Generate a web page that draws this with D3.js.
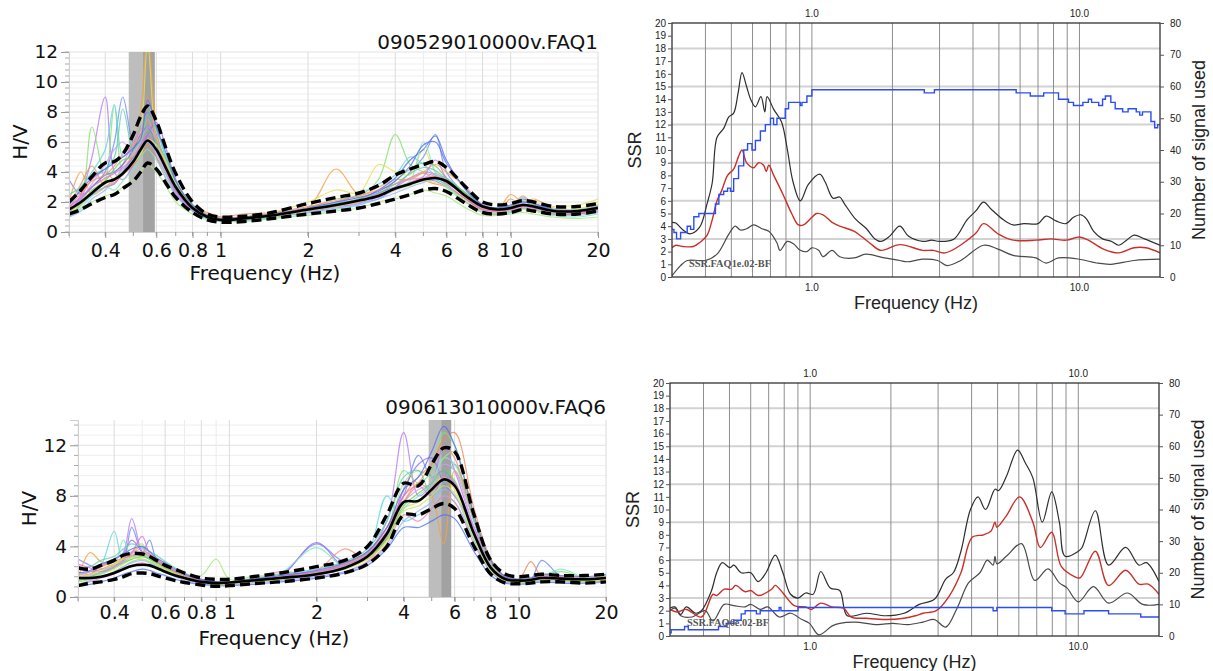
<!DOCTYPE html>
<html lang="en">
<head>
<meta charset="utf-8">
<title>hv_and_ssr_panels</title>
<script src="https://d3js.org/d3.v7.min.js"></script>
<style>
  body { margin: 0; background: #fff; }
  svg { display: block; }
  .hv text { font-family: "DejaVu Sans", sans-serif; fill: #111; }
  .ssr text { font-family: "Liberation Sans", Arial, sans-serif; fill: #222; }
</style>
</head>
<body>
<svg id="chart"></svg>
<script>
//============================================================
//                          data
//============================================================

// H/V frequency grid (Hz), shared by every H/V curve
var hvFreq = [0.3, 0.33, 0.36, 0.4, 0.43, 0.46, 0.5, 0.53, 0.56, 0.6, 0.65, 0.7, 0.8, 0.9, 1,
              1.2, 1.5, 2, 2.5, 3, 3.5, 4, 4.5, 5, 5.5, 6, 7, 8, 9, 10, 11, 12, 14, 17, 20]
var hvTicksX = [0.4, 0.6, 0.8, 1, 2, 4, 6, 8, 10, 20]
var hvGridX = [0.3, 0.4, 0.5, 0.6, 0.7, 0.8, 0.9, 1, 2, 3, 4, 5, 6, 7, 8, 9, 10, 20]

// top-left: 090529010000v.FAQ1
var hvA_title = "090529010000v.FAQ1"
var hvA_mean = [1.5, 2.0, 2.6, 3.3, 3.5, 3.9, 4.7, 5.5, 6.1, 5.5, 4.2, 3.0, 1.6, 1.0, 0.8, 0.9, 1.1, 1.5, 1.8, 2.1, 2.4, 2.9, 3.2, 3.5, 3.6, 3.4, 2.4, 1.7, 1.5, 1.6, 1.8, 1.7, 1.4, 1.4, 1.6]
var hvA_hi = [2.0, 2.8, 3.7, 4.6, 4.7, 5.2, 6.5, 7.7, 8.4, 7.4, 5.5, 3.9, 2.0, 1.2, 1.0, 1.05, 1.3, 1.9, 2.3, 2.6, 3.1, 3.8, 4.2, 4.5, 4.7, 4.3, 3.0, 2.0, 1.8, 1.9, 2.1, 2.0, 1.7, 1.7, 1.9]
var hvA_lo = [1.2, 1.5, 1.9, 2.3, 2.5, 2.9, 3.4, 4.0, 4.6, 4.2, 3.2, 2.3, 1.3, 0.8, 0.65, 0.7, 0.9, 1.2, 1.4, 1.6, 1.9, 2.2, 2.5, 2.8, 2.9, 2.7, 1.9, 1.3, 1.2, 1.3, 1.5, 1.4, 1.2, 1.2, 1.4]
var hvA_band = [0.482, 0.540, 0.593]
var hvA_windows = [
  [1.2, 2.5, 5.0, 9.0, 4.0, 3.5, 4.5, 5.5, 6.5, 5.0, 3.5, 2.5, 1.4, 0.9, 0.8, 0.9, 1.0, 1.4, 1.7, 2.0, 2.6, 3.0, 3.6, 4.0, 3.8, 3.2, 2.2, 1.5, 1.4, 1.5, 1.9, 1.6, 1.3, 1.2, 1.4],
  [1.0, 2.0, 7.0, 3.5, 8.4, 4.0, 5.0, 6.0, 7.5, 6.0, 4.5, 3.2, 1.7, 1.0, 0.8, 0.8, 1.2, 1.6, 2.2, 2.4, 3.5, 6.5, 4.5, 4.0, 3.5, 3.2, 2.5, 1.6, 1.5, 1.6, 1.8, 1.8, 1.5, 1.4, 1.7],
  [3.5, 2.5, 3.0, 4.0, 6.0, 9.0, 6.0, 7.0, 8.0, 6.5, 4.5, 3.0, 1.5, 1.0, 0.9, 1.0, 1.2, 1.5, 1.8, 2.0, 2.2, 3.0, 4.0, 5.0, 6.5, 4.0, 2.5, 1.7, 1.6, 1.7, 2.0, 1.9, 1.5, 1.3, 1.5],
  [2.0, 4.0, 2.5, 3.0, 3.5, 4.0, 5.5, 8.0, 13.0, 7.0, 4.0, 2.8, 1.7, 1.2, 0.9, 0.9, 1.2, 1.6, 4.2, 2.5, 3.0, 3.5, 3.5, 4.0, 4.5, 4.0, 3.0, 1.8, 1.5, 2.5, 2.0, 2.2, 1.6, 1.5, 1.8],
  [1.5, 3.0, 4.0, 5.5, 8.5, 5.0, 6.0, 7.0, 8.5, 7.0, 5.0, 3.2, 1.6, 1.0, 0.8, 0.8, 1.1, 1.5, 2.0, 2.5, 3.2, 3.8, 5.0, 4.5, 3.8, 3.6, 2.5, 1.7, 1.5, 1.6, 2.3, 1.9, 1.5, 1.5, 1.7],
  [1.3, 2.0, 3.0, 3.5, 4.0, 4.5, 5.0, 6.5, 12.5, 6.0, 4.0, 2.8, 1.5, 1.0, 0.9, 1.0, 1.3, 2.0, 2.8, 2.6, 4.5, 4.0, 3.8, 5.5, 4.0, 3.5, 2.5, 1.8, 1.6, 1.8, 2.2, 2.0, 1.7, 1.8, 2.2],
  [1.6, 2.4, 3.5, 4.0, 3.5, 4.5, 6.0, 6.8, 7.5, 6.0, 4.5, 3.0, 1.5, 1.0, 0.8, 0.9, 1.1, 1.4, 1.8, 2.0, 2.8, 3.2, 3.5, 3.6, 3.7, 3.3, 2.4, 1.5, 1.4, 1.5, 1.7, 1.6, 1.4, 1.3, 1.5],
  [1.0, 1.8, 2.5, 3.0, 3.2, 4.0, 5.0, 5.5, 6.5, 7.3, 5.5, 3.5, 1.6, 0.9, 0.7, 0.8, 1.0, 1.3, 1.7, 1.9, 2.6, 3.0, 3.2, 3.5, 3.4, 3.0, 2.2, 1.4, 1.3, 1.4, 1.6, 1.5, 1.2, 1.2, 1.4],
  [1.2, 1.5, 2.0, 2.4, 2.6, 3.0, 3.5, 4.0, 4.5, 4.0, 3.0, 2.0, 1.2, 0.8, 0.7, 0.75, 0.9, 1.1, 1.4, 1.6, 2.0, 2.2, 2.5, 2.8, 2.6, 2.4, 1.6, 1.1, 1.1, 1.2, 1.3, 1.2, 1.0, 0.9, 1.0],
  [1.4, 2.2, 3.0, 3.8, 4.0, 4.5, 5.5, 6.5, 7.0, 5.8, 4.2, 2.8, 1.5, 0.9, 0.8, 0.9, 1.1, 1.5, 1.9, 2.2, 2.8, 3.6, 4.8, 5.5, 6.4, 4.8, 2.8, 1.8, 1.6, 1.7, 2.0, 1.8, 1.4, 1.3, 1.6],
  [1.8, 3.2, 4.4, 3.0, 3.3, 3.8, 4.5, 5.0, 5.8, 5.0, 3.8, 2.6, 1.6, 1.3, 1.0, 1.0, 1.2, 1.6, 2.0, 2.3, 2.5, 2.9, 3.2, 3.4, 3.2, 3.0, 2.2, 1.4, 1.2, 2.2, 1.6, 1.5, 1.2, 1.2, 1.5],
  [1.1, 1.6, 2.4, 3.0, 2.8, 3.4, 4.2, 5.0, 5.5, 4.8, 3.6, 2.4, 1.4, 0.9, 0.7, 0.7, 0.9, 1.2, 1.5, 1.8, 2.4, 3.0, 3.4, 6.0, 4.0, 3.0, 2.0, 1.4, 1.2, 1.3, 1.5, 1.4, 1.1, 1.0, 1.2],
  [1.3, 2.2, 3.2, 4.5, 5.5, 6.0, 5.2, 6.0, 7.0, 6.2, 4.6, 3.0, 1.5, 1.0, 0.8, 0.85, 1.0, 1.3, 1.6, 1.9, 2.3, 2.8, 3.3, 3.6, 3.9, 3.4, 2.3, 1.6, 1.5, 1.6, 1.9, 1.7, 1.4, 1.3, 1.5],
  [2.5, 3.0, 3.8, 4.2, 5.0, 8.2, 5.5, 6.2, 7.8, 6.8, 4.8, 3.2, 1.6, 1.0, 0.8, 0.9, 1.1, 1.5, 1.9, 2.2, 2.6, 3.2, 3.9, 4.3, 4.1, 3.5, 2.6, 1.7, 1.6, 1.7, 2.1, 1.8, 1.5, 1.4, 1.7],
  [1.0, 1.4, 2.2, 2.8, 3.5, 4.2, 4.8, 5.6, 6.0, 5.2, 3.8, 2.6, 1.4, 0.9, 0.75, 0.8, 1.0, 1.3, 1.6, 1.8, 2.2, 2.6, 3.0, 3.3, 3.5, 3.1, 2.0, 1.3, 1.2, 1.3, 1.6, 1.5, 1.2, 1.1, 1.3],
  [1.6, 2.6, 3.4, 3.8, 4.4, 5.2, 5.8, 6.4, 9.0, 6.2, 4.4, 3.0, 1.8, 1.1, 1.0, 1.2, 1.3, 1.7, 2.1, 2.4, 2.8, 3.2, 3.6, 3.9, 3.7, 3.3, 2.5, 1.6, 1.4, 1.6, 2.4, 1.8, 1.4, 1.3, 1.6],
  [1.4, 1.9, 2.8, 3.4, 4.2, 4.8, 5.0, 5.8, 6.8, 6.0, 4.8, 3.4, 1.8, 1.1, 0.9, 0.9, 1.1, 1.5, 1.8, 2.1, 2.5, 3.4, 4.2, 4.6, 4.4, 3.6, 2.6, 1.7, 1.5, 1.6, 1.8, 1.7, 1.4, 1.3, 1.5],
  [1.7, 2.3, 3.0, 3.6, 3.9, 4.3, 5.0, 5.8, 6.5, 5.4, 4.0, 2.7, 1.5, 1.0, 0.85, 0.9, 1.1, 1.5, 1.8, 2.1, 2.5, 2.9, 3.3, 3.7, 4.8, 3.6, 2.3, 1.5, 1.4, 1.5, 1.7, 1.6, 1.3, 1.3, 1.5],
  [1.2, 1.8, 2.6, 3.2, 3.6, 4.0, 4.6, 5.2, 6.2, 5.8, 4.6, 3.2, 1.7, 1.0, 0.8, 0.85, 1.0, 1.4, 1.7, 2.0, 2.4, 2.8, 3.1, 3.4, 3.3, 3.0, 2.1, 1.4, 1.3, 1.4, 1.6, 1.5, 1.3, 1.5, 2.0],
  [1.8, 2.8, 3.6, 4.2, 4.6, 5.0, 5.6, 6.2, 8.8, 7.0, 5.2, 3.4, 1.8, 1.1, 0.9, 1.0, 1.2, 1.6, 2.0, 2.3, 2.7, 3.4, 4.4, 5.8, 6.0, 4.6, 2.9, 1.8, 1.6, 1.8, 2.2, 1.9, 1.5, 1.4, 1.7]
]

// bottom-left: 090613010000v.FAQ6
var hvC_title = "090613010000v.FAQ6"
var hvC_mean = [1.5, 1.5, 1.6, 1.9, 2.2, 2.45, 2.55, 2.5, 2.3, 2.0, 1.7, 1.5, 1.2, 1.1, 1.15, 1.3, 1.5, 1.8, 2.3, 3.2, 5.0, 7.5, 7.6, 8.5, 9.3, 8.8, 5.0, 2.3, 1.4, 1.3, 1.35, 1.5, 1.45, 1.4, 1.5]
var hvC_hi = [2.3, 2.2, 2.5, 2.9, 3.3, 3.45, 3.4, 3.2, 2.9, 2.5, 2.2, 1.9, 1.5, 1.4, 1.4, 1.6, 1.9, 2.4, 2.9, 4.0, 6.5, 9.0, 8.8, 10.5, 11.8, 11.5, 6.5, 2.9, 1.8, 1.6, 1.7, 1.8, 1.7, 1.7, 1.8]
var hvC_lo = [0.9, 1.1, 1.2, 1.4, 1.6, 1.85, 1.9, 1.85, 1.7, 1.5, 1.3, 1.15, 0.95, 0.85, 0.9, 1.05, 1.2, 1.5, 1.9, 2.6, 4.0, 6.5, 6.5, 7.0, 7.4, 7.0, 4.0, 1.8, 1.1, 1.05, 1.1, 1.2, 1.2, 1.1, 1.2]
var hvC_band = [4.88, 5.39, 5.84]
var hvC_windows = [
  [2.0, 1.8, 2.5, 3.0, 3.5, 6.2, 3.5, 3.0, 2.6, 2.2, 1.7, 1.5, 1.2, 1.0, 1.0, 1.2, 1.4, 1.7, 2.4, 3.5, 6.0, 13.0, 8.0, 9.0, 12.0, 10.0, 5.5, 2.5, 1.5, 1.2, 1.3, 1.6, 1.5, 1.3, 1.4],
  [1.2, 1.4, 1.6, 2.0, 2.4, 2.8, 3.0, 2.8, 2.5, 2.1, 1.8, 1.5, 1.1, 1.0, 1.1, 1.3, 1.5, 1.8, 2.5, 3.0, 5.0, 10.0, 9.0, 10.0, 13.0, 12.0, 6.5, 2.8, 1.6, 1.4, 1.5, 1.7, 2.0, 1.5, 1.6],
  [3.0, 2.5, 2.2, 2.5, 2.8, 5.5, 3.5, 4.5, 3.0, 2.6, 2.0, 1.7, 1.3, 1.1, 1.2, 1.4, 1.7, 4.2, 2.8, 3.5, 5.5, 8.0, 11.2, 9.5, 10.0, 9.0, 5.0, 2.4, 1.5, 1.3, 1.4, 2.9, 1.6, 1.4, 1.5],
  [1.5, 3.5, 2.8, 2.5, 3.0, 3.5, 4.0, 3.2, 2.8, 2.4, 1.9, 1.6, 1.2, 1.0, 1.0, 1.2, 1.5, 1.9, 2.6, 3.4, 5.2, 7.5, 9.0, 8.0, 4.2, 10.0, 6.0, 2.5, 1.4, 1.2, 1.3, 1.5, 1.4, 1.3, 1.4],
  [1.8, 2.0, 2.5, 5.2, 2.8, 3.2, 3.5, 3.0, 2.7, 2.3, 1.9, 1.6, 1.3, 1.2, 1.1, 1.3, 1.6, 2.0, 2.5, 3.5, 8.0, 6.0, 6.5, 7.0, 8.0, 7.5, 4.5, 2.2, 1.3, 1.1, 1.2, 1.4, 1.3, 1.2, 1.3],
  [1.2, 1.5, 1.8, 2.2, 2.6, 3.0, 3.2, 3.4, 3.0, 2.4, 1.9, 1.6, 1.2, 1.0, 1.0, 1.2, 1.4, 1.8, 2.2, 3.0, 4.5, 7.0, 7.5, 8.5, 9.5, 8.5, 4.8, 2.2, 1.3, 1.2, 1.3, 1.5, 1.4, 1.3, 1.4],
  [1.0, 1.2, 1.5, 1.8, 2.2, 2.5, 2.7, 2.5, 2.3, 2.0, 1.7, 1.4, 1.1, 1.0, 1.0, 1.2, 2.0, 1.7, 2.0, 2.8, 4.2, 6.5, 6.0, 7.0, 8.0, 7.5, 4.2, 2.0, 1.2, 1.1, 1.2, 1.4, 1.3, 1.2, 1.3],
  [2.5, 2.0, 2.4, 3.0, 3.4, 4.5, 3.6, 3.2, 2.8, 2.4, 2.0, 1.6, 1.2, 1.1, 1.1, 1.3, 1.6, 4.3, 2.4, 3.2, 4.8, 8.5, 10.5, 11.0, 9.0, 8.0, 5.5, 2.6, 1.5, 1.3, 1.4, 1.6, 1.5, 1.4, 1.5],
  [1.4, 1.6, 2.0, 2.5, 3.2, 3.6, 4.2, 3.0, 2.6, 2.2, 2.0, 1.8, 1.7, 3.0, 1.4, 1.6, 1.8, 2.0, 2.6, 3.4, 5.0, 9.0, 10.0, 9.5, 11.0, 11.5, 6.0, 2.6, 1.5, 1.3, 1.4, 1.5, 1.5, 1.4, 1.6],
  [0.9, 1.0, 1.2, 1.5, 1.8, 2.0, 2.2, 2.1, 1.9, 1.7, 1.4, 1.2, 1.0, 0.9, 0.9, 1.0, 1.2, 1.5, 1.9, 2.5, 3.8, 5.5, 5.5, 6.0, 6.5, 6.2, 3.6, 1.7, 1.1, 1.0, 1.1, 1.2, 1.1, 1.1, 1.2],
  [1.6, 1.8, 2.2, 2.6, 3.0, 3.2, 3.3, 3.0, 2.7, 2.3, 1.9, 1.6, 1.3, 1.1, 1.1, 1.3, 1.6, 2.0, 2.6, 3.6, 5.5, 8.0, 9.5, 10.5, 12.5, 13.0, 7.0, 3.0, 1.6, 1.4, 2.8, 1.6, 1.5, 1.4, 1.6],
  [1.3, 1.5, 1.8, 2.4, 4.5, 3.2, 3.4, 3.0, 2.6, 2.2, 1.8, 1.5, 1.2, 1.1, 1.2, 1.5, 1.9, 3.9, 2.4, 3.2, 4.6, 7.0, 8.0, 9.0, 11.0, 10.5, 6.0, 2.8, 1.5, 1.3, 1.4, 1.6, 2.2, 1.5, 1.5],
  [1.4, 1.7, 2.0, 2.4, 2.8, 3.4, 3.8, 3.2, 2.8, 2.4, 2.0, 1.7, 1.3, 1.1, 1.1, 1.3, 1.6, 2.0, 2.4, 3.3, 5.0, 7.5, 8.5, 9.0, 10.5, 10.0, 5.5, 2.4, 1.4, 1.2, 1.3, 1.5, 1.4, 1.3, 1.5],
  [2.2, 2.4, 2.9, 3.2, 3.8, 4.2, 3.9, 3.6, 3.3, 2.8, 2.3, 1.9, 1.4, 1.2, 1.2, 1.4, 1.8, 2.2, 2.8, 3.8, 6.0, 9.5, 10.0, 8.0, 9.0, 10.5, 6.0, 2.8, 1.6, 1.4, 1.5, 1.7, 1.6, 1.5, 1.7],
  [1.0, 1.3, 1.6, 2.0, 2.4, 2.7, 2.9, 2.7, 2.4, 2.0, 1.6, 1.3, 1.0, 0.9, 0.9, 1.1, 1.3, 1.6, 2.0, 2.7, 4.0, 6.0, 6.8, 7.5, 8.5, 8.0, 4.5, 2.0, 1.2, 1.0, 1.1, 1.3, 1.2, 1.1, 1.2],
  [1.7, 2.0, 2.4, 2.8, 3.1, 3.3, 3.6, 3.4, 3.0, 2.6, 2.1, 1.8, 1.4, 1.2, 1.2, 1.4, 1.7, 2.1, 3.8, 3.0, 4.8, 7.5, 9.0, 10.5, 12.0, 11.0, 6.2, 2.8, 1.6, 1.4, 1.5, 1.7, 1.6, 1.5, 1.6],
  [1.3, 1.6, 1.9, 2.3, 2.7, 3.0, 3.2, 3.0, 2.8, 2.4, 2.0, 1.7, 1.3, 1.1, 1.1, 1.3, 1.5, 1.9, 2.3, 3.1, 4.6, 7.2, 8.2, 9.0, 10.0, 9.2, 5.0, 2.3, 1.4, 1.2, 1.3, 1.5, 1.4, 1.3, 1.5],
  [2.6, 2.3, 2.0, 2.4, 2.9, 3.5, 4.8, 3.4, 2.9, 2.5, 2.0, 1.7, 1.3, 1.1, 1.1, 1.3, 1.6, 2.0, 2.5, 3.4, 5.2, 8.0, 8.8, 8.0, 9.5, 9.0, 5.2, 2.4, 1.5, 1.3, 1.4, 1.6, 1.5, 1.4, 1.5],
  [1.5, 1.8, 2.1, 2.6, 3.0, 3.1, 3.0, 2.8, 2.6, 2.2, 1.9, 1.6, 1.2, 1.0, 1.0, 1.2, 1.4, 1.8, 2.2, 3.0, 4.4, 6.8, 7.2, 8.0, 8.8, 8.2, 4.6, 2.1, 1.3, 1.1, 1.2, 1.4, 1.3, 1.2, 1.4],
  [1.9, 2.1, 2.6, 3.0, 3.4, 3.8, 4.0, 3.6, 3.1, 2.7, 2.2, 1.8, 1.4, 1.2, 1.2, 1.4, 1.7, 2.1, 2.7, 3.6, 5.5, 8.5, 9.5, 11.5, 13.5, 12.0, 6.5, 2.9, 1.6, 1.4, 1.5, 1.8, 1.7, 1.6, 1.8]
]
var winColors = ["#b87cf0", "#86e070", "#6f8cf5", "#f2a24a", "#5fd6e4", "#e4e05a",
                 "#f284bf", "#9c6cf0", "#a8e87a", "#4f74f0", "#f08a5a", "#7ee8c0",
                 "#c9a0f5", "#60d0b0", "#90b8ff", "#f0907a", "#70d060", "#e070e0",
                 "#c8e860", "#5a6ff0"]

// SSR panels: [frequency Hz, value]; count curves use the right axis
var ssrTicksX = [1, 10]
var ssrGridX = [0.4, 0.5, 0.6, 0.7, 0.8, 0.9, 1, 2, 3, 4, 5, 6, 7, 8, 9, 10]
var ssrGridY = [3, 6, 9, 12, 15, 18]

var ssrB_tag = "SSR.FAQ1e.02-BF"
var ssrB_up = [[0.3,4.3],[0.31,4.25],[0.33,3.7],[0.35,3.4],[0.38,3.9],[0.406,5.8],[0.424,7.4],[0.442,11.0],
  [0.468,11.7],[0.489,12.6],[0.51,12.9],[0.53,14.5],[0.548,16.1],[0.57,15.0],[0.59,14.0],[0.615,13.4],[0.645,14.2],
  [0.667,13.0],[0.68,14.2],[0.72,13.2],[0.77,12.2],[0.81,10.0],[0.85,7.5],[0.905,6.0],[0.97,7.3],[1.07,8.1],
  [1.12,7.5],[1.2,6.2],[1.27,6.3],[1.32,5.8],[1.45,4.6],[1.6,3.8],[1.72,3.0],[1.81,2.8],[1.95,3.2],[2.13,4.0],
  [2.3,3.2],[2.6,2.8],[2.8,2.9],[3.0,2.8],[3.4,3.0],[3.8,4.5],[4.1,5.2],[4.38,5.9],[4.7,5.3],[5.2,4.5],[5.65,4.1],
  [6.2,4.2],[7.0,4.2],[7.5,4.8],[8.2,4.4],[8.9,4.2],[9.5,4.7],[10.1,4.9],[10.6,4.6],[11.3,3.6],[12.2,3.0],
  [13.2,2.8],[14,2.5],[15,2.9],[16,3.3],[17.5,3.0],[20,2.5]]
var ssrB_mean = [[0.3,2.3],[0.31,2.5],[0.33,2.4],[0.36,2.4],[0.38,2.7],[0.406,3.3],[0.424,4.5],[0.442,6.0],
  [0.46,6.8],[0.484,8.0],[0.51,8.5],[0.532,9.5],[0.548,10.0],[0.57,9.0],[0.606,8.6],[0.632,9.0],[0.66,8.8],
  [0.675,8.3],[0.69,8.8],[0.72,8.0],[0.78,6.5],[0.84,5.0],[0.89,4.1],[0.93,4.1],[1.0,4.7],[1.04,5.0],[1.1,4.9],
  [1.19,4.3],[1.27,4.0],[1.44,3.6],[1.64,2.7],[1.81,2.1],[2.13,2.55],[2.59,2.1],[2.85,2.1],[3.15,1.9],[4.08,3.4],
  [4.38,4.2],[4.96,3.4],[5.65,2.9],[6.87,2.9],[7.83,3.0],[8.93,2.9],[10,3.15],[10.8,2.9],[12.3,2.2],[14,1.9],
  [16,2.3],[17.7,2.3],[20,1.9]]
var ssrB_low = [[0.3,0.1],[0.323,0.9],[0.342,1.3],[0.378,1.3],[0.4,1.3],[0.442,1.8],[0.49,3.4],[0.517,4.0],
  [0.54,3.7],[0.57,3.8],[0.606,4.1],[0.65,3.8],[0.69,3.6],[0.74,2.7],[0.76,2.1],[0.81,2.8],[0.855,2.6],[0.905,2.1],
  [0.958,2.0],[1.0,2.3],[1.06,2.1],[1.1,1.6],[1.19,2.1],[1.27,1.6],[1.44,1.5],[1.59,1.8],[1.87,1.5],[2.13,1.3],
  [2.27,1.2],[2.59,1.4],[2.95,1.3],[3.2,0.9],[3.6,1.3],[4.38,2.5],[4.96,2.2],[5.65,1.7],[6.87,1.5],[7.5,1.1],
  [8.35,1.5],[10,1.4],[11.6,1.1],[13.1,1.0],[16,1.3],[20,1.4]]
var ssrB_count = [[0.3,15],[0.305,14],[0.312,12],[0.323,14],[0.342,16],[0.352,15],[0.362,19],[0.378,20],
  [0.436,23],[0.449,26],[0.468,27],[0.484,28],[0.496,27],[0.51,31],[0.532,35],[0.556,40],[0.575,42],[0.597,40],
  [0.615,43],[0.642,46],[0.67,48],[0.7,50],[0.719,48],[0.74,50],[0.795,53],[0.818,55],[0.905,54],[0.918,55],
  [0.958,57],[1.0,59],[2.63,58],[2.87,59],[5.8,58],[6.55,57],[7.35,58],[8.35,56],[9.1,55],[9.5,54],[10.3,55],
  [10.8,56],[11.1,55],[11.8,54],[12.2,56],[12.5,57],[13.1,55],[13.6,53],[14.5,52],[15.2,53],[16.3,52],[16.8,51],
  [17.2,52],[18.5,49],[19.1,47],[19.6,48],[20,48]]

var ssrD_tag = "SSR.FAQ6e.02-BF"
var ssrD_up = [[0.3,2.2],[0.313,2.3],[0.329,1.7],[0.345,2.3],[0.374,1.8],[0.393,2.0],[0.427,3.5],[0.448,5.0],
  [0.47,5.8],[0.502,5.4],[0.519,5.6],[0.553,5.0],[0.6,5.0],[0.64,4.3],[0.684,5.0],[0.741,6.4],[0.791,5.0],
  [0.845,3.3],[0.901,3.0],[0.962,3.4],[1.026,3.3],[1.095,5.1],[1.188,3.8],[1.289,3.6],[1.375,1.6],[1.618,1.8],
  [1.905,1.6],[2.24,1.8],[2.552,2.5],[2.906,2.9],[3.204,4.5],[3.42,5.0],[3.65,6.7],[3.96,10.0],[4.225,11.0],
  [4.51,10.0],[4.89,11.6],[5.05,11.5],[5.39,12.6],[5.94,14.7],[6.34,13.7],[6.77,12.5],[7.34,9.0],[7.96,11.4],
  [8.5,9.0],[8.93,6.3],[10,6.7],[10.33,7.0],[11.58,9.9],[12.97,5.6],[15.02,7.0],[16.83,5.6],[17.95,5.8],[20,4.3]]
var ssrD_mean = [[0.3,2.1],[0.318,1.9],[0.345,2.1],[0.393,1.5],[0.434,3.3],[0.448,3.2],[0.478,3.7],[0.51,3.7],
  [0.527,4.0],[0.572,3.5],[0.6,3.6],[0.64,3.2],[0.718,3.7],[0.741,4.0],[0.791,3.4],[0.872,2.4],[0.962,2.3],
  [1.01,2.1],[1.095,2.6],[1.208,2.3],[1.331,2.2],[1.421,1.5],[1.618,1.4],[1.905,1.3],[2.24,1.4],[2.47,1.6],
  [2.636,1.8],[2.953,2.0],[3.31,3.2],[3.65,5.0],[4.02,7.8],[4.436,8.0],[4.73,8.3],[4.89,9.0],[4.97,8.6],
  [5.39,9.5],[6.04,11.0],[6.77,9.0],[7.22,7.0],[7.96,8.2],[8.64,5.5],[9.68,4.7],[10.16,4.6],[11.58,6.7],
  [12.97,4.0],[15.02,5.2],[16.83,4.1],[18.25,4.1],[20,3.3]]
var ssrD_low = [[0.3,2.0],[0.313,2.2],[0.329,1.6],[0.362,1.5],[0.406,2.0],[0.434,1.2],[0.478,2.5],[0.519,2.4],
  [0.572,2.3],[0.6,2.5],[0.651,2.1],[0.695,2.3],[0.766,1.5],[0.845,1.8],[0.931,1.3],[0.994,1.0],[1.078,0.1],
  [1.208,0.8],[1.289,1.0],[1.468,1.1],[1.784,0.9],[2.032,1.0],[2.314,0.9],[2.636,1.1],[2.906,1.3],[3.204,0.7],
  [3.53,2.2],[3.894,4.2],[4.295,5.0],[4.58,6.0],[4.81,5.6],[4.89,6.3],[4.97,5.7],[5.39,6.3],[6.14,7.3],[6.88,4.4],
  [7.71,5.3],[8.5,4.2],[9.07,3.8],[10,2.7],[11.39,3.9],[12.97,2.6],[15.26,3.4],[17.38,2.5],[20,2.5]]
var ssrD_count = [[0.3,1],[0.303,2],[0.34,3],[0.351,2],[0.455,3],[0.486,4],[0.519,5],[0.553,7],[0.572,8],
  [0.63,7],[0.651,8],[0.766,9],[0.778,8],[0.901,9],[4.81,8],[4.97,9],[7.96,8],[8.93,7],[10.5,8],[12.97,7],
  [17.1,6],[20,6]]

//============================================================
//                          init
//============================================================
var wholeW = 1213
var wholeH = 671

var svg = d3.select("#chart")
  .attr("width", wholeW)
  .attr("height", wholeH)

//============================================================
//                 H/V panel (left column)
//============================================================
function drawHV(cfg) {
  var g = svg.append("g").attr("class", "hv")
  var x = d3.scaleLog().domain([0.3, 20]).range([cfg.x0, cfg.x1])
  var y = d3.scaleLinear().domain([0, cfg.ymax]).range([cfg.y0, cfg.yTop])

  svg.append("clipPath").attr("id", "clip" + cfg.id)
    .append("rect")
    .attr("x", cfg.x0).attr("y", cfg.yTop)
    .attr("width", cfg.x1 - cfg.x0).attr("height", cfg.y0 - cfg.yTop)

  // grid
  var minorY = d3.range(0, cfg.ymax + 1e-6, cfg.minorStep)
  g.append("g").selectAll("line").data(minorY).join("line")
    .attr("x1", cfg.x0).attr("x2", cfg.x1)
    .attr("y1", d => y(d)).attr("y2", d => y(d))
    .attr("stroke", d => (Math.abs(d / cfg.majorStep - Math.round(d / cfg.majorStep)) < 1e-6) ? "#e2e2e2" : "#efefef")
    .attr("stroke-width", 1)
  g.append("g").selectAll("line").data(hvGridX).join("line")
    .attr("x1", d => x(d)).attr("x2", d => x(d))
    .attr("y1", cfg.yTop).attr("y2", cfg.y0)
    .attr("stroke", d => hvTicksX.includes(d) ? "#dcdcdc" : "#ececec")
    .attr("stroke-width", 1)

  // peak frequency band
  g.append("rect")
    .attr("x", x(cfg.band[0])).attr("width", x(cfg.band[1]) - x(cfg.band[0]))
    .attr("y", cfg.yTop).attr("height", cfg.y0 - cfg.yTop)
    .attr("fill", "#bdbdbd")
  g.append("rect")
    .attr("x", x(cfg.band[1])).attr("width", x(cfg.band[2]) - x(cfg.band[1]))
    .attr("y", cfg.yTop).attr("height", cfg.y0 - cfg.yTop)
    .attr("fill", "#a2a2a2")

  var line = d3.line()
    .defined(d => d != null)
    .curve(d3.curveCatmullRom.alpha(0.5))
    .x((d, i) => x(hvFreq[i]))
    .y(d => y(d))

  var curves = g.append("g").attr("clip-path", "url(#clip" + cfg.id + ")")

  curves.selectAll("path.win").data(cfg.wins).join("path")
    .attr("class", "win")
    .attr("d", d => line(d))
    .attr("fill", "none")
    .attr("stroke", (d, i) => winColors[i % winColors.length])
    .attr("stroke-width", 1.2)
    .attr("opacity", 0.8)

  ;[cfg.hi, cfg.lo].forEach(s => {
    curves.append("path")
      .attr("d", line(s))
      .attr("fill", "none")
      .attr("stroke", "#000")
      .attr("stroke-width", 3.4)
      .attr("stroke-dasharray", "10,5")
  })
  curves.append("path")
    .attr("d", line(cfg.mean))
    .attr("fill", "none")
    .attr("stroke", "#000")
    .attr("stroke-width", 2.6)

  // y axis
  var yAxis = d3.axisLeft(y)
    .tickValues(d3.range(0, cfg.ymax + 1e-6, cfg.majorStep))
    .tickSize(8).tickPadding(3)
  var ya = g.append("g").attr("transform", "translate(" + cfg.x0 + ",0)").call(yAxis)
  ya.select(".domain").attr("stroke", "#cfcfcf")
  ya.selectAll(".tick line").attr("stroke", "#999")
  ya.selectAll("text").style("font-size", "18.5px")
  g.append("g").selectAll("line").data(minorY).join("line")
    .attr("x1", cfg.x0 - 4).attr("x2", cfg.x0)
    .attr("y1", d => y(d)).attr("y2", d => y(d))
    .attr("stroke", "#aaa").attr("stroke-width", 1)

  // x axis
  var xAxis = d3.axisBottom(x)
    .tickValues(hvTicksX)
    .tickFormat(d => String(d))
    .tickSize(cfg.tickLen).tickPadding(cfg.tickPad)
  var xa = g.append("g").attr("transform", "translate(0," + cfg.y0 + ")").call(xAxis)
  xa.select(".domain").attr("stroke", "#cfcfcf")
  xa.selectAll(".tick line").attr("stroke", "#999")
  xa.selectAll("text").style("font-size", "19px")
  g.append("g").selectAll("line").data(hvGridX).join("line")
    .attr("x1", d => x(d)).attr("x2", d => x(d))
    .attr("y1", cfg.y0).attr("y2", cfg.y0 + 4)
    .attr("stroke", "#999")

  // texts
  g.append("text")
    .attr("x", cfg.x1).attr("y", cfg.titleY)
    .attr("text-anchor", "end")
    .style("font-size", "20px")
    .text(cfg.title)
  g.append("text")
    .attr("transform", "translate(" + cfg.ylabX + "," + ((cfg.y0 + cfg.yTop) / 2) + ") rotate(-90)")
    .attr("text-anchor", "middle")
    .attr("dominant-baseline", "central")
    .style("font-size", "20px")
    .text("H/V")
  g.append("text")
    .attr("x", cfg.xlabX).attr("y", cfg.xlabY)
    .attr("text-anchor", "middle")
    .style("font-size", "20px")
    .text("Frequency (Hz)")
}

//============================================================
//                 SSR panel (right column)
//============================================================
function drawSSR(cfg) {
  var g = svg.append("g").attr("class", "ssr")
  var x = d3.scaleLog().domain([0.3, 20]).range([cfg.x0, cfg.x1])
  var y = d3.scaleLinear().domain([0, 20]).range([cfg.y0, cfg.yTop])
  var yR = d3.scaleLinear().domain([0, 80]).range([cfg.y0, cfg.yTop])

  svg.append("clipPath").attr("id", "clip" + cfg.id)
    .append("rect")
    .attr("x", cfg.x0).attr("y", cfg.yTop)
    .attr("width", cfg.x1 - cfg.x0).attr("height", cfg.y0 - cfg.yTop)

  // grid
  g.append("g").selectAll("line").data(ssrGridY).join("line")
    .attr("x1", cfg.x0).attr("x2", cfg.x1)
    .attr("y1", d => y(d)).attr("y2", d => y(d))
    .attr("stroke", "#d2d2d2").attr("stroke-width", 2)
  g.append("g").selectAll("line").data(ssrGridX).join("line")
    .attr("x1", d => x(d)).attr("x2", d => x(d))
    .attr("y1", cfg.yTop).attr("y2", cfg.y0)
    .attr("stroke", "#8e8e8e").attr("stroke-width", 1)

  var line = d3.line()
    .curve(d3.curveCatmullRom.alpha(0.5))
    .x(d => x(d[0])).y(d => y(d[1]))
  var step = d3.line()
    .curve(d3.curveStepAfter)
    .x(d => x(d[0])).y(d => yR(d[1]))

  var curves = g.append("g").attr("clip-path", "url(#clip" + cfg.id + ")")
  curves.append("path").attr("d", line(cfg.up))
    .attr("fill", "none").attr("stroke", "#2e2e2e").attr("stroke-width", 1.2)
  curves.append("path").attr("d", line(cfg.low))
    .attr("fill", "none").attr("stroke", "#4a4a4a").attr("stroke-width", 1.2)
  curves.append("path").attr("d", line(cfg.mean))
    .attr("fill", "none").attr("stroke", "#c9302a").attr("stroke-width", 1.4)
  curves.append("path").attr("d", step(cfg.count))
    .attr("fill", "none").attr("stroke", "#2b4df5").attr("stroke-width", 1.4)

  // frame
  g.append("rect")
    .attr("x", cfg.x0).attr("y", cfg.yTop)
    .attr("width", cfg.x1 - cfg.x0).attr("height", cfg.y0 - cfg.yTop)
    .attr("fill", "none").attr("stroke", "#333").attr("stroke-width", 1.3)

  // axes
  var la = g.append("g").attr("transform", "translate(" + cfg.x0 + ",0)")
    .call(d3.axisLeft(y).tickValues(d3.range(0, 21)).tickSize(4).tickPadding(2))
  var ra = g.append("g").attr("transform", "translate(" + cfg.x1 + ",0)")
    .call(d3.axisRight(yR).tickValues(d3.range(0, 81, 10)).tickSize(4).tickPadding(6))
  ;[la, ra].forEach(a => {
    a.select(".domain").remove()
    a.selectAll(".tick line").attr("stroke", "#555")
    a.selectAll("text").style("font-size", "10px")
  })

  g.append("g").selectAll("text").data(ssrTicksX).join("text")
    .attr("x", d => x(d)).attr("y", cfg.yTop - 6)
    .attr("text-anchor", "middle")
    .style("font-size", "10px")
    .text(d => d.toFixed(1))
  g.append("g").selectAll("text").data(ssrTicksX).join("text")
    .attr("x", d => x(d)).attr("y", cfg.y0 + 14)
    .attr("text-anchor", "middle")
    .style("font-size", "10px")
    .text(d => d.toFixed(1))

  g.append("text")
    .attr("x", cfg.x0 + 17).attr("y", cfg.y0 - 10)
    .attr("textLength", 82)
    .attr("lengthAdjust", "spacingAndGlyphs")
    .style("font-family", "'Liberation Serif', serif")
    .style("font-weight", "bold")
    .style("font-size", "10.5px")
    .style("fill", "#555")
    .text(cfg.tag)

  var midY = (cfg.y0 + cfg.yTop) / 2
  g.append("text")
    .attr("transform", "translate(" + (cfg.x0 - 37) + "," + midY + ") rotate(-90)")
    .attr("text-anchor", "middle").attr("dominant-baseline", "central")
    .style("font-size", "18px")
    .text("SSR")
  g.append("text")
    .attr("transform", "translate(" + (cfg.x1 + 39) + "," + midY + ") rotate(-90)")
    .attr("text-anchor", "middle").attr("dominant-baseline", "central")
    .style("font-size", "18px")
    .text("Number of signal used")
  g.append("text")
    .attr("x", (cfg.x0 + cfg.x1) / 2).attr("y", cfg.y0 + 32)
    .attr("text-anchor", "middle")
    .style("font-size", "18px")
    .text("Frequency (Hz)")
}

//============================================================
//                          draw
//============================================================
drawHV({
  id: "A", x0: 69, x1: 598, y0: 232, yTop: 52, ymax: 12, majorStep: 2, minorStep: 0.4,
  band: hvA_band, wins: hvA_windows, mean: hvA_mean, hi: hvA_hi, lo: hvA_lo,
  title: hvA_title, titleY: 49, ylabX: 20, xlabX: 265, xlabY: 280, tickLen: 6, tickPad: 6
})
drawHV({
  id: "C", x0: 78, x1: 606, y0: 597, yTop: 420, ymax: 14, majorStep: 4, minorStep: 0.8,
  band: hvC_band, wins: hvC_windows, mean: hvC_mean, hi: hvC_hi, lo: hvC_lo,
  title: hvC_title, titleY: 414, ylabX: 29, xlabX: 274, xlabY: 645, tickLen: 5, tickPad: 4
})
drawSSR({
  id: "B", x0: 672, x1: 1160, y0: 277, yTop: 23,
  up: ssrB_up, mean: ssrB_mean, low: ssrB_low, count: ssrB_count, tag: ssrB_tag
})
drawSSR({
  id: "D", x0: 670, x1: 1159, y0: 636, yTop: 383,
  up: ssrD_up, mean: ssrD_mean, low: ssrD_low, count: ssrD_count, tag: ssrD_tag
})
</script>
</body>
</html>
